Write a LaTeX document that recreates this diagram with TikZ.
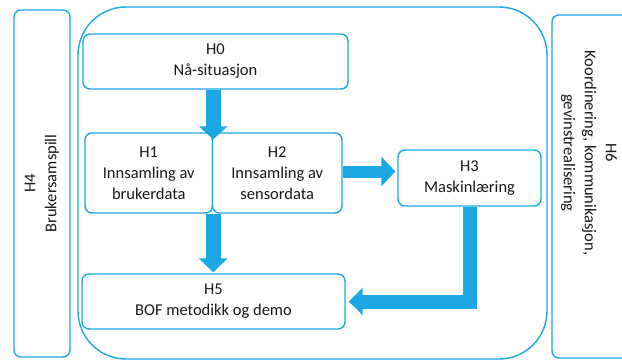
\documentclass[tikz,border=0pt]{standalone}
\usepackage{fontspec}
\setmainfont{Carlito}
\usetikzlibrary{arrows.meta}
\definecolor{wpblue}{RGB}{28,168,228}
\definecolor{wptext}{RGB}{25,25,25}
\begin{document}
\begin{tikzpicture}[x=1pt,y=-1pt,
  box/.style={draw=wpblue, line width=1.4pt, rounded corners=7pt, align=center,
    font=\fontsize{16.5}{21}\selectfont, text=wptext, inner sep=0pt, fill=white},
  label/.style={align=center, font=\fontsize{16.5}{21}\selectfont, text=wptext, inner sep=0pt},
  fatarrow/.style={draw=wpblue, line width=#1, line join=miter}
]
\useasboundingbox (0,0) rectangle (622,361);

% work package frame
\node[box, rounded corners=48pt, minimum width=469pt, minimum height=352pt] (wp) at (312.5,183) {};

% side boxes
\node[box, rotate=90, minimum width=347pt, minimum height=56pt] (h4) at (42,183.5) {H4\\Brukersamspill};
\node[box, minimum width=100pt, minimum height=343pt] (h6) at (602,186.5) {};
\node[label, rotate=-90] (h6text) at (589,153) {H6\\Koordinering, kommunikasjon,\\gevinstrealisering};

% inner boxes
\node[box, minimum width=265pt, minimum height=55pt] (h0) at (215.5,61.5) {H0\\Nå-situasjon};
\node[box, minimum width=127.5pt, minimum height=80pt] (h1) at (148.75,173) {H1\\Innsamling av\\brukerdata};
\node[box, minimum width=129.5pt, minimum height=80pt] (h2) at (277.25,173) {H2\\Innsamling av\\sensordata};
\node[box, minimum width=143pt, minimum height=56pt] (h3) at (469.5,178) {H3\\Maskinlæring};
\node[box, minimum width=263pt, minimum height=55pt] (h5) at (213.5,301.5) {H5\\BOF metodikk og demo};

% block arrows
\draw[fatarrow=15pt, -{Triangle[width=28pt,length=13pt]}]
  (h1.north east |- h0.south) -- ([yshift=-7pt]h1.north east);
\draw[fatarrow=15pt, -{Triangle[width=28pt,length=14pt]}]
  (h1.south east) -- ([yshift=1pt]h1.south east |- h5.north);
\draw[fatarrow=12pt, -{Triangle[width=29pt,length=14pt]}]
  ([yshift=1.5pt]h2.east) -- ([xshift=-2pt,yshift=1.5pt]h2.east -| h3.west);
\draw[fatarrow=14pt, -{Triangle[width=27pt,length=14pt]}]
  (h3.south) -- (h3.south |- h5.east) -- ([xshift=3pt]h5.east);
\end{tikzpicture}
\end{document}
